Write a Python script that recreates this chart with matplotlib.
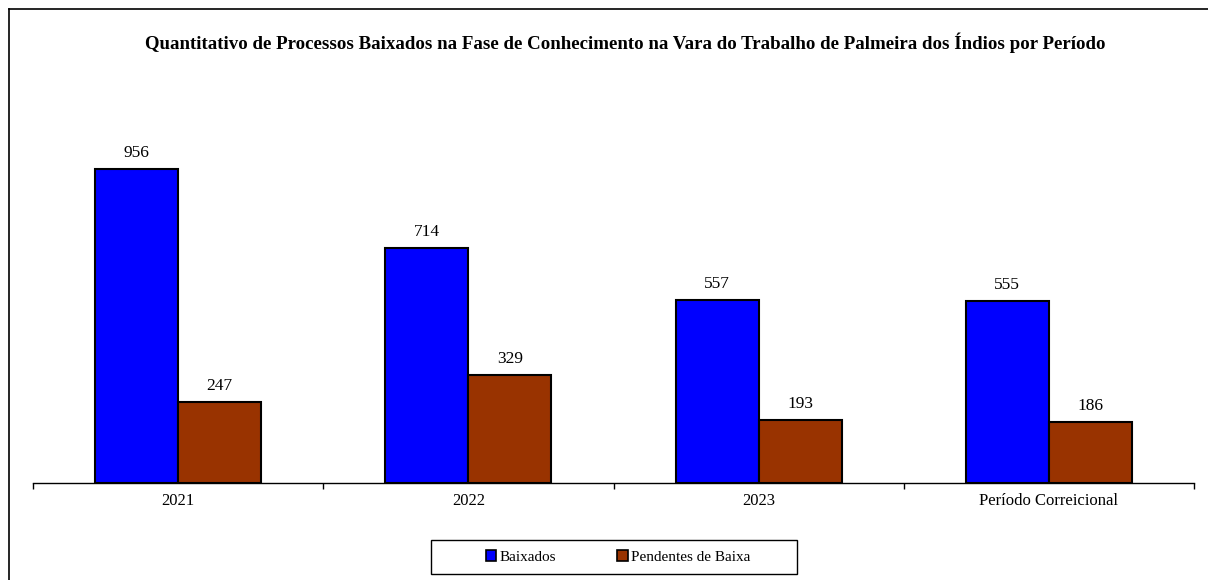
import matplotlib
matplotlib.use("Agg")
import matplotlib.pyplot as plt
from matplotlib.lines import Line2D
from matplotlib.patches import Rectangle, Patch
import numpy as np

categories = ["2021", "2022", "2023", "Período Correicional"]
baixados = [956, 714, 557, 555]
pendentes = [247, 329, 193, 186]
series_names = ["Baixados", "Pendentes de Baixa"]
title = "Quantitativo de Processos Baixados na Fase de Conhecimento na Vara do Trabalho de Palmeira dos Índios por Período"

plt.rcParams['font.family'] = ['Liberation Serif', 'DejaVu Serif']

W, H = 1208, 580
fig = plt.figure(figsize=(W / 100, H / 100), dpi=100)

def fx(px):
    return px / W

def fy(py):
    return 1 - py / H

# outer border (cropped: only top and left visible)
fig.add_artist(Line2D([fx(9), fx(9)], [fy(9), 0], transform=fig.transFigure, color='black', lw=1.2))
fig.add_artist(Line2D([fx(9), 1], [fy(9), fy(9)], transform=fig.transFigure, color='black', lw=1.2))

ax_left, ax_right, ax_bottom, ax_top = 33, 1194, 483, 100
ax = fig.add_axes([fx(ax_left), fy(ax_bottom), (ax_right - ax_left) / W, (ax_bottom - ax_top) / H])

x = np.arange(len(categories))
w = 0.286
scale = 956 / (483 - 169)
ymax = (ax_bottom - ax_top) * scale

b1 = ax.bar(x - w / 2, baixados, w, color='#0000FF', edgecolor='black', linewidth=1.5, zorder=3)
b2 = ax.bar(x + w / 2, pendentes, w, color='#993300', edgecolor='black', linewidth=1.5, zorder=3)

for bars, vals in ((b1, baixados), (b2, pendentes)):
    for r, v in zip(bars, vals):
        ax.text(r.get_x() + r.get_width() / 2, v + 8 * scale, f"{v}", ha='center', va='bottom', fontsize=12.5)

ax.set_xlim(-0.5, len(categories) - 0.5)
ax.set_ylim(0, ymax)
ax.set_yticks([])
for s in ('left', 'right', 'top'):
    ax.spines[s].set_visible(False)
ax.spines['bottom'].set_linewidth(1.0)

ax.set_xticks(x)
ax.set_xticklabels(categories, fontsize=12)
ax.tick_params(axis='x', which='major', length=0, pad=7)
ax.set_xticks(np.arange(-0.5, len(categories), 1.0), minor=True)
ax.tick_params(axis='x', which='minor', length=4, width=1.0, direction='out', color='black')

fig.text(fx(625), fy(43), title, ha='center', va='center', fontsize=13.6, fontweight='bold')

# legend box
fig.add_artist(Rectangle((fx(431), fy(574)), (797 - 431) / W, (574 - 540) / H,
                         transform=fig.transFigure, fill=False, edgecolor='black', lw=1.0))
handles = [Patch(facecolor='#0000FF', edgecolor='black', linewidth=1.2),
           Patch(facecolor='#993300', edgecolor='black', linewidth=1.2)]
fig.legend(handles, series_names, loc='center', bbox_to_anchor=(fx(618), fy(557)), ncol=2,
           frameon=False, fontsize=11, handlelength=0.7, handleheight=0.7, handletextpad=0.2,
           columnspacing=4.0)

fig.savefig("out.png", dpi=100)
